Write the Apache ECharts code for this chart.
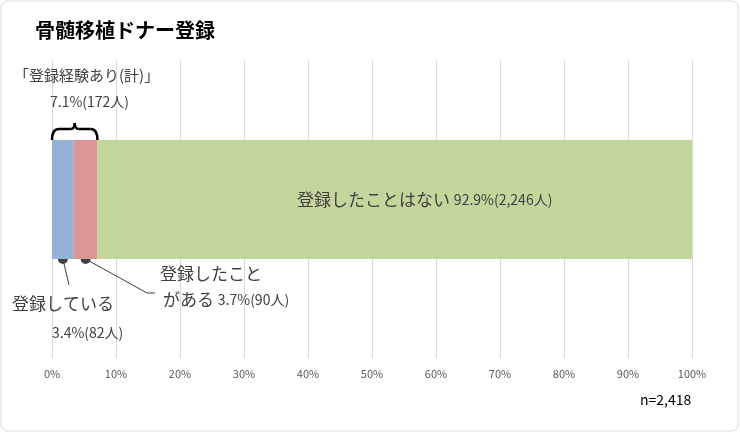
<!DOCTYPE html><html><head><meta charset="utf-8">
<script src="https://cdn.jsdelivr.net/npm/echarts@6/dist/echarts.min.js"></script>
<style>body{margin:0}#c{width:740px;height:433px}</style></head><body><div id="c"></div>
<script>
const seriesNames=['登録している','登録したことがある','登録したことはない'];
const values=[3.4,3.7,92.9];
const counts=[82,90,2246];
const colors=['#95b3d7','#d99694','#c3d69b'];
const ticks=[0,10,20,30,40,50,60,70,80,90,100];
const F='"Noto Sans CJK JP"';
const chart=echarts.init(document.getElementById('c'));
chart.setOption({
 animation:false,backgroundColor:'#fff',
 textStyle:{fontFamily:F},
 grid:[{left:52,right:48,top:60,bottom:75},{left:52,right:48,top:140,height:119}],
 xAxis:[{type:'value',gridIndex:0,min:0,max:100,interval:10,axisLine:{show:false},axisTick:{show:false},
   axisLabel:{formatter:'{value}%',color:'#595959',fontSize:11,margin:10,fontFamily:F},splitLine:{lineStyle:{color:'#d9d9d9'}}},
  {type:'value',gridIndex:1,min:0,max:100,show:false}],
 yAxis:[{type:'category',gridIndex:0,data:[''],show:false},{type:'category',gridIndex:1,data:['x'],show:false}],
 series:values.map((v,i)=>({type:'bar',name:seriesNames[i],stack:'s',xAxisIndex:1,yAxisIndex:1,barWidth:'100%',
   data:[v],itemStyle:{color:colors[i]},
   label:i==2?{show:true,position:'inside',offset:[30,0],formatter:'登録したことはない {a|'+v+'%('+counts[i].toLocaleString()+'人)}',color:'#404040',fontSize:17,
     rich:{a:{fontSize:14,color:'#404040'}}}:{show:false}}))
});
const px=v=>chart.convertToPixel({xAxisIndex:1},v);
const x0=px(0),x1=px(values[0]+values[1]),xm=(x0+x1)/2;
const d1=px(values[0]/2),d2=px(values[0]+values[1]/2);
const by=259;
const lc='#404040';
const T=(x,y,text,font,fill,rich)=>({type:'text',x:x,y:y,style:{text:text,font:font,fill:fill||'#404040',verticalAlign:'top',rich:rich}});
const bs={fill:'none',stroke:'#000',lineWidth:2.5};
const g=[
 {type:'rect',shape:{x:1,y:1,width:737,height:430,r:6},style:{fill:'none',stroke:'#d9d9d9',lineWidth:1}},
 T(35,20,'骨髄移植ドナー登録','bold 20px '+F,'#000'),
 T(14,68,'「登録経験あり(計)」','15px '+F),
 T(50,95,(values[0]+values[1]).toFixed(1)+'%('+(counts[0]+counts[1])+'人)','14px '+F),
 {type:'bezierCurve',shape:{x1:x0,y1:140,cpx1:x0,cpy1:129,x2:x0+7,y2:129},style:bs},
 {type:'line',shape:{x1:x0+7,y1:129,x2:xm-4,y2:129},style:bs},
 {type:'bezierCurve',shape:{x1:xm-4,y1:129,cpx1:xm,cpy1:129,x2:xm,y2:123},style:bs},
 {type:'bezierCurve',shape:{x1:xm,y1:123,cpx1:xm,cpy1:129,x2:xm+4,y2:129},style:bs},
 {type:'line',shape:{x1:xm+4,y1:129,x2:x1-7,y2:129},style:bs},
 {type:'bezierCurve',shape:{x1:x1-7,y1:129,cpx1:x1,cpy1:129,x2:x1,y2:140},style:bs},
 {type:'circle',shape:{cx:d1,cy:by,r:5},style:{fill:'#404040'}},
 {type:'circle',shape:{cx:d2,cy:by,r:5},style:{fill:'#404040'}},
 {type:'line',shape:{x1:d1,y1:by,x2:69,y2:285},style:{stroke:lc,lineWidth:1}},
 {type:'line',shape:{x1:d2,y1:by,x2:147,y2:293},style:{stroke:lc,lineWidth:1}},
 {type:'line',shape:{x1:147,y1:293,x2:155,y2:293},style:{stroke:lc,lineWidth:1}},
 T(12,295,'登録している','17px '+F),
 T(52,326,values[0]+'%('+counts[0]+'人)','14px '+F),
 T(160,265,'登録したこと','17px '+F),
 T(163,291,'がある {a|'+values[1]+'%('+counts[1]+'人)}','17px '+F,'#404040',{a:{font:'14px '+F,fill:'#404040'}}),
 T(640,393,'n=2,418','14px '+F,'#000')
];
chart.setOption({graphic:g});
</script></body></html>
